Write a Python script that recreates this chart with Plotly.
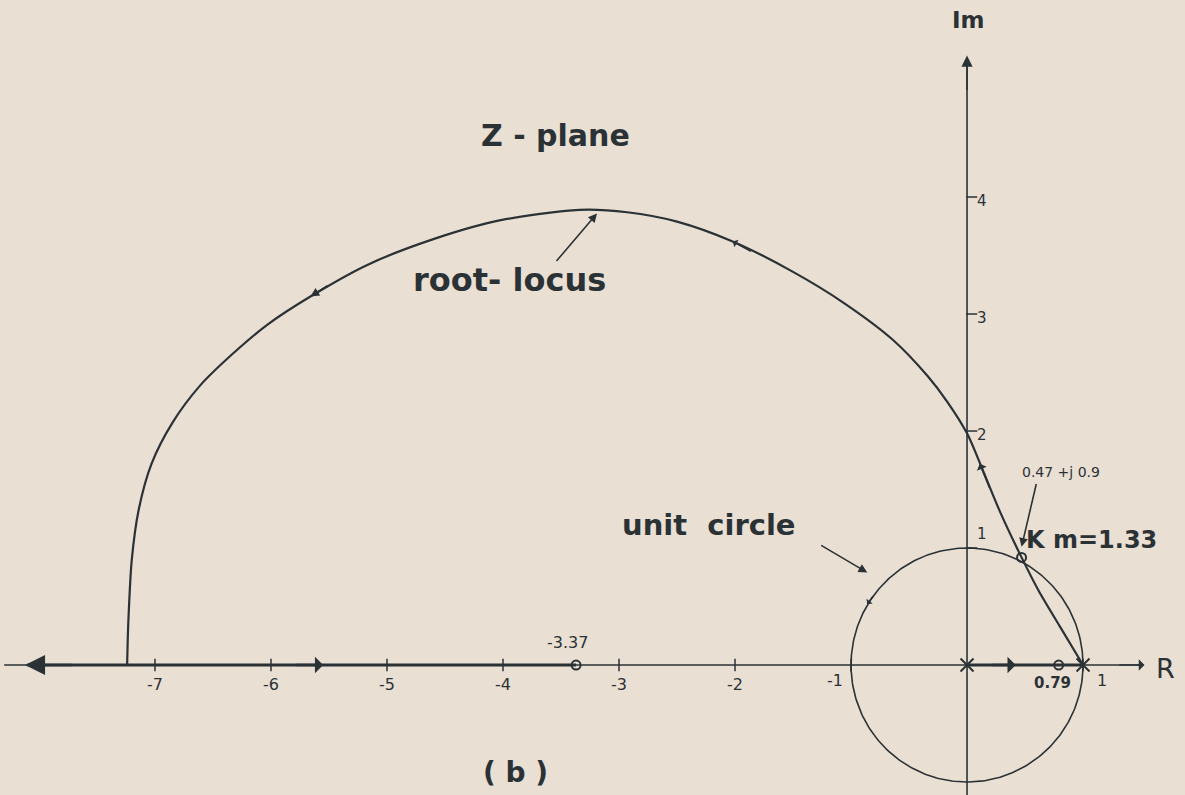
import numpy as np
import plotly.graph_objects as go

# root-locus branch (upper half)
locus_re = [-7.24, -7.23, -7.20, -7.14, -7.03, -6.85, -6.61, -6.33, -6.03, -5.66, -5.17,
            -4.60, -4.03, -3.34, -2.93, -2.50, -2.02, -1.50, -1.07, -0.64, -0.34, -0.17,
            0.0, 0.13, 0.28, 0.47, 0.62, 0.80, 1.0]
locus_im = [0.0, 0.36, 0.90, 1.33, 1.72, 2.07, 2.39, 2.66, 2.91, 3.15, 3.42,
            3.64, 3.80, 3.89, 3.87, 3.79, 3.62, 3.36, 3.10, 2.78, 2.47, 2.25,
            1.98, 1.68, 1.32, 0.92, 0.63, 0.33, 0.0]

# real-axis parts of the locus
real_seg1 = [-8.1, -3.37]
real_seg2 = [0.0, 1.0]

poles_re = [0.0, 1.0]
zeros_re = [-3.37, 0.79]
km_point = (0.47, 0.92)

x_ticks = [-7, -6, -5, -4, -3, -2, -1, 1]
y_ticks = [1, 2, 3, 4]

ink = "#2b3236"
paper = "#eadfd3"
font = "DejaVu Sans"

fig = go.Figure()

# axes
fig.add_trace(go.Scatter(x=[-8.3, 1.5], y=[0, 0], mode="lines",
                         line=dict(color=ink, width=1.6), hoverinfo="skip"))
fig.add_trace(go.Scatter(x=[0, 0], y=[-1.12, 5.15], mode="lines",
                         line=dict(color=ink, width=1.6), hoverinfo="skip"))

# unit circle
t = np.linspace(0, 2 * np.pi, 300)
fig.add_trace(go.Scatter(x=np.cos(t), y=np.sin(t), mode="lines",
                         line=dict(color=ink, width=1.6), hoverinfo="skip"))

# locus
fig.add_trace(go.Scatter(x=locus_re, y=locus_im, mode="lines",
                         line=dict(color=ink, width=2.2, shape="spline", smoothing=0.8),
                         hoverinfo="skip"))
fig.add_trace(go.Scatter(x=real_seg1, y=[0, 0], mode="lines",
                         line=dict(color=ink, width=3.2), hoverinfo="skip"))
fig.add_trace(go.Scatter(x=real_seg2, y=[0, 0], mode="lines",
                         line=dict(color=ink, width=3.2), hoverinfo="skip"))

# ticks
fig.add_trace(go.Scatter(x=x_ticks, y=[0] * len(x_ticks), mode="markers",
                         marker=dict(symbol="line-ns", size=9, color=ink,
                                     line=dict(color=ink, width=1.5)),
                         hoverinfo="skip"))
fig.add_trace(go.Scatter(x=[0.04] * len(y_ticks), y=y_ticks, mode="markers",
                         marker=dict(symbol="line-ew", size=8, color=ink,
                                     line=dict(color=ink, width=1.5)),
                         hoverinfo="skip"))

# poles and zeros
fig.add_trace(go.Scatter(x=poles_re, y=[0, 0], mode="markers",
                         marker=dict(symbol="x-thin", size=13, color=ink,
                                     line=dict(color=ink, width=2)),
                         hoverinfo="skip"))
fig.add_trace(go.Scatter(x=zeros_re, y=[0, 0], mode="markers",
                         marker=dict(symbol="circle-open", size=9, color=ink,
                                     line=dict(color=ink, width=2)),
                         hoverinfo="skip"))
fig.add_trace(go.Scatter(x=[km_point[0]], y=[km_point[1]], mode="markers",
                         marker=dict(symbol="circle-open", size=9, color=ink,
                                     line=dict(color=ink, width=2)),
                         hoverinfo="skip"))

def arrow(x, y, ax, ay, head=2, size=1.3, width=1.6):
    fig.add_annotation(x=x, y=y, ax=ax, ay=ay, xref="x", yref="y", axref="x", ayref="y",
                       text="", showarrow=True, arrowhead=head, arrowsize=size,
                       arrowwidth=width, arrowcolor=ink)

# axis arrow heads
arrow(1.53, 0, 1.3, 0, head=1, size=1.2)
arrow(0, 5.21, 0, 4.9, head=2, size=1.4)
# locus direction arrows
arrow(-8.12, 0, -7.7, 0, head=2, size=1.6, width=2.5)
arrow(-5.55, 0, -5.8, 0, head=1, size=1.1, width=2.5)
arrow(0.42, 0, 0.2, 0, head=1, size=1.1, width=2.5)
arrow(-5.66, 3.15, -5.5, 3.25, head=2, size=1.1)
arrow(-2.02, 3.62, -1.85, 3.53, head=1, size=0.9)
arrow(0.11, 1.72, 0.2, 1.5, head=1, size=1.1)
arrow(-0.86, 0.52, -0.8, 0.6, head=1, size=0.8)

# label arrows
arrow(-3.19, 3.86, -3.55, 3.44, head=2, size=1.1)
arrow(-0.86, 0.79, -1.27, 1.03, head=2, size=1.1)
arrow(0.47, 1.01, 0.60, 1.56, head=2, size=1.1)

def label(x, y, s, size, weight="bold"):
    fig.add_annotation(x=x, y=y, xref="x", yref="y", text=s, showarrow=False,
                       font=dict(family=font, size=size, color=ink, weight=weight))

label(-3.55, 4.53, "Z - plane", 30)
label(-3.94, 3.29, "root- locus", 32)
label(-2.22, 1.20, "unit  circle", 29)
label(0.81, 1.65, "0.47 +j 0.9", 14, "normal")
label(1.07, 1.07, "K m=1.33", 24, "bold")
label(-3.44, 0.19, "-3.37", 16, "normal")
label(0.74, -0.15, "0.79", 15, "bold")
label(-3.89, -0.92, "( b )", 28)
label(0.01, 5.51, "Im", 23)
label(1.71, -0.03, "R", 27, "normal")

for v in x_ticks:
    xx = v
    yy = -0.17
    if v == -1:
        xx, yy = -1.14, -0.13
    if v == 1:
        xx, yy = 1.16, -0.13
    label(xx, yy, str(v), 16, "normal")
for v in y_ticks:
    label(0.13, v - 0.03 if v > 1 else v + 0.12, str(v), 15, "normal")

fig.update_layout(
    width=1185, height=795,
    margin=dict(l=0, r=0, t=0, b=0),
    paper_bgcolor=paper, plot_bgcolor=paper,
    showlegend=False,
    xaxis=dict(range=[-8.336, 1.879], visible=False, fixedrange=True),
    yaxis=dict(range=[-1.111, 5.684], visible=False, fixedrange=True),
)

fig.write_html("out.html", config={"displayModeBar": False},
               post_script="document.body.style.margin='0';"
                           "document.body.style.background='" + paper + "';")
